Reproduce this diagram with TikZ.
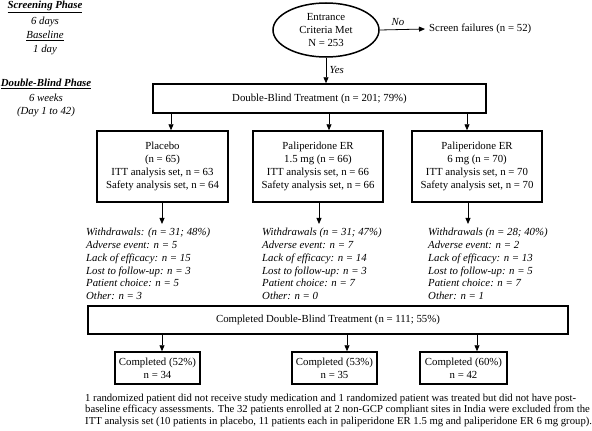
\documentclass[tikz,border=0pt]{standalone}
\usepackage{fontspec}
\setmainfont{Liberation Serif}
\usetikzlibrary{shapes.geometric,arrows.meta}
\begin{document}
\begin{tikzpicture}[x=1pt,y=-1pt,
  font=\fontsize{10.8}{12.8}\selectfont,
  box/.style={draw,line width=1.5pt,rectangle,inner sep=0pt,align=center},
  arr/.style={line width=0.8pt,-{Triangle[length=6pt,width=5pt]}},
  wd/.style={align=left,anchor=west,inner xsep=0pt,inner ysep=4pt,font=\fontsize{10.8}{12.8}\selectfont\itshape},
  hd/.style={align=center,inner sep=0pt,font=\fontsize{10.8}{12.8}\selectfont\itshape}]
\useasboundingbox (0,0) rectangle (592,431);
% left annotations
\node[hd,font=\fontsize{10.8}{12.8}\selectfont\bfseries\itshape] (sp) at (45,7) {\underline{Screening Phase}};
\node[hd] (sd) at (45,22) {6 days};
\node[hd] (bl) at (45,36) {\underline{Baseline}};
\node[hd] (bd) at (45,50) {1 day};
\node[hd,font=\fontsize{10.8}{12.8}\selectfont\bfseries\itshape] (dp) at (46,84) {\underline{Double-Blind Phase}};
\node[hd] (dw) at (46,98) {6 weeks};
\node[hd] (dd) at (46,112) {(Day 1 to 42)};
% ellipse
\node[draw,ellipse,line width=1.5pt,minimum width=106pt,minimum height=54pt,inner sep=0pt,align=center] (ell) at (326,30) {Entrance\\Criteria Met\\N = 253};
\node[anchor=west,inner sep=4pt] (sf) at (425,29) {Screen failures (n = 52)};
\draw[arr] (ell.east) -- node[above,font=\fontsize{10.8}{12.8}\selectfont\itshape,pos=0.4] (no) {No} (sf.west);
% double blind
\node[box,minimum width=333pt,minimum height=29pt] (db) at (319.5,98.5) {Double-Blind Treatment (n = 201; 79\%)};
\draw[arr] (ell.south) -- node[right,font=\fontsize{10.8}{12.8}\selectfont\itshape] (yes) {Yes} (ell.south |- db.north);
% arms
\node[box,minimum width=131pt,minimum height=71pt] (pl) at (162.5,166.5) {Placebo\\(n = 65)\\ITT analysis set, n = 63\\Safety analysis set, n = 64};
\node[box,minimum width=130pt,minimum height=71pt] (md) at (318,166.5) {Paliperidone ER\\1.5 mg (n = 66)\\ITT analysis set, n = 66\\Safety analysis set, n = 66};
\node[box,minimum width=130pt,minimum height=71pt] (rt) at (477,166.5) {Paliperidone ER\\6 mg (n = 70)\\ITT analysis set, n = 70\\Safety analysis set, n = 70};
\coordinate (d1) at (171,0);
\coordinate (d2) at (329,0);
\coordinate (d3) at (467,0);
\draw[arr] (db.south -| d1) -- (pl.north -| d1);
\draw[arr] (db.south -| d2) -- (md.north -| d2);
\draw[arr] (db.south -| d3) -- (rt.north -| d3);
% withdrawals
\node[wd] (w1) at (86,264) {Withdrawals: (n = 31; 48\%)\\Adverse event: n = 5\\Lack of efficacy: n = 15\\Lost to follow-up: n = 3\\Patient choice: n = 5\\Other: n = 3};
\node[wd] (w2) at (262,264) {Withdrawals (n = 31; 47\%)\\Adverse event: n = 7\\Lack of efficacy: n = 14\\Lost to follow-up: n = 3\\Patient choice: n = 7\\Other: n = 0};
\node[wd] (w3) at (428,264) {Withdrawals (n = 28; 40\%)\\Adverse event: n = 2\\Lack of efficacy: n = 13\\Lost to follow-up: n = 5\\Patient choice: n = 7\\Other: n = 1};
\coordinate (e1) at (162,0);
\coordinate (e2) at (319,0);
\coordinate (e3) at (468,0);
\draw[arr] (pl.south -| e1) -- (w1.north -| e1);
\draw[arr] (md.south -| e2) -- (w2.north -| e2);
\draw[arr] (rt.south -| e3) -- (w3.north -| e3);
% completed
\node[box,minimum width=480pt,minimum height=28pt] (cdb) at (328,320) {Completed Double-Blind Treatment (n = 111; 55\%)};
\node[box,minimum width=85pt,minimum height=32pt] (c1) at (157.5,368) {Completed (52\%)\\n = 34};
\node[box,minimum width=85pt,minimum height=32pt] (c2) at (334.5,368) {Completed (53\%)\\n = 35};
\node[box,minimum width=87pt,minimum height=32pt] (c3) at (463.5,368) {Completed (60\%)\\n = 42};
\coordinate (f1) at (162,0);
\coordinate (f2) at (347,0);
\coordinate (f3) at (477,0);
\draw[arr] (cdb.south -| f1) -- (c1.north -| f1);
\draw[arr] (cdb.south -| f2) -- (c2.north -| f2);
\draw[arr] (cdb.south -| f3) -- (c3.north -| f3);
% footnote
\node[anchor=north west,align=left,inner sep=0pt,font=\fontsize{10.7}{11.2}\selectfont] (fn) at (85,394) {1 randomized patient did not receive study medication and 1 randomized patient was treated but did not have post-\\baseline efficacy assessments. The 32 patients enrolled at 2 non-GCP compliant sites in India were excluded from the\\ITT analysis set (10 patients in placebo, 11 patients each in paliperidone ER 1.5 mg and paliperidone ER 6 mg group).};
\end{tikzpicture}
\end{document}
